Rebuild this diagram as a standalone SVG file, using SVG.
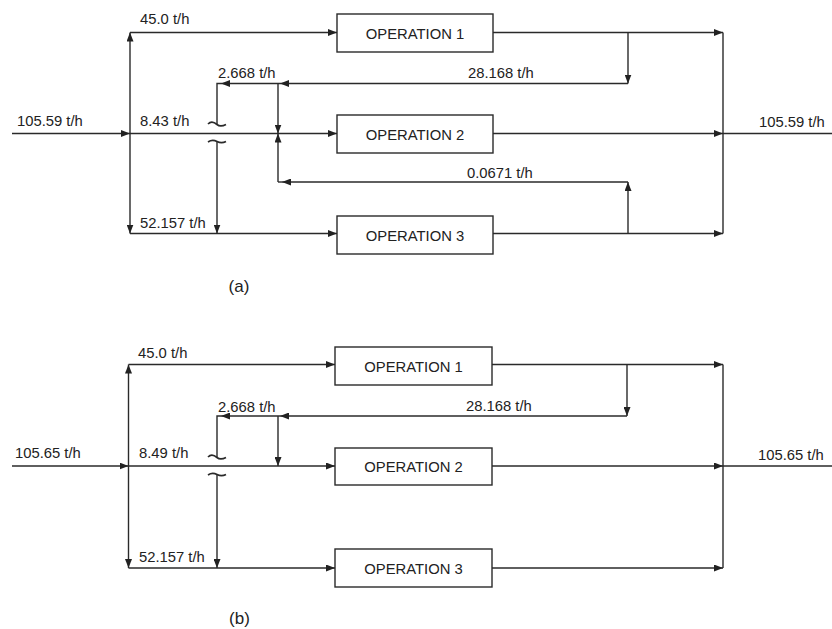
<svg xmlns="http://www.w3.org/2000/svg" width="832" height="629" viewBox="0 0 832 629">
<defs>
<marker id="ah" viewBox="0 0 9 7" refX="9" refY="3.5" markerWidth="9" markerHeight="7" markerUnits="userSpaceOnUse" orient="auto">
<path d="M0,0 L9,3.5 L0,7 z" fill="#222"/>
</marker>
<style>
.c{fill:none;stroke:#2a2a2a;stroke-width:1.4}
.a{marker-end:url(#ah)}
.t{fill:none;stroke:#2a2a2a;stroke-width:1.7}
.box{fill:#fff;stroke:#2a2a2a;stroke-width:1.4}
text{font-family:"Liberation Sans",Arial,sans-serif;font-size:14.8px;fill:#222}
.m{text-anchor:middle}
.cap{font-size:17px}
</style>
</defs>
<rect width="832" height="629" fill="#fff"/>

<!-- Diagram (a) -->
<g id="connectors-a">
<path class="c a" d="M12,133.5 H130"/>
<path class="c a" d="M130,133.5 V32.5"/>
<path class="c a" d="M130,133.5 V233.5"/>
<path class="c a" d="M130,32.5 H337"/>
<path class="c a" d="M130,133.5 H337"/>
<path class="c a" d="M130,233.5 H337"/>
<path class="c a" d="M493,32.5 H723"/>
<path class="c a" d="M628,32.5 V83.5"/>
<path class="c a" d="M628,83.5 H280"/>
<path class="c a" d="M280,83.5 H221"/>
<path class="c" d="M221,83.5 H217 V124"/>
<path class="t" d="M208,124 c3,-3 6,-2 9,0.5 s6,1.5 9,0"/>
<path class="t" d="M208,142 c3,-2 6,-2 9,-0.5 s6,1.5 9,0"/>
<path class="c a" d="M217,141 V233.5"/>
<path class="c a" d="M278,83.5 V133.5"/>
<path class="c a" d="M493,233.5 H723"/>
<path class="c a" d="M628,233.5 V182"/>
<path class="c a" d="M628,182 H282"/>
<path class="c" d="M282,182 H278"/>
<path class="c a" d="M278,182 V133.5"/>
<path class="c a" d="M493,133.5 H723"/>
<path class="c" d="M723,32.5 V233.5"/>
<path class="c" d="M723,133.5 H832"/>
</g>
<g id="op1-a"><rect class="box" x="337" y="14" width="156" height="38"/><text class="m" x="415" y="39">OPERATION 1</text></g>
<g id="op2-a"><rect class="box" x="337" y="115" width="156" height="38"/><text class="m" x="415" y="140">OPERATION 2</text></g>
<g id="op3-a"><rect class="box" x="337" y="216" width="156" height="38"/><text class="m" x="415" y="241">OPERATION 3</text></g>
<g id="labels-a">
<text x="140" y="24">45.0 t/h</text>
<text x="218" y="78">2.668 t/h</text>
<text x="468" y="78">28.168 t/h</text>
<text x="17" y="126">105.59 t/h</text>
<text x="140" y="126">8.43 t/h</text>
<text x="759" y="127">105.59 t/h</text>
<text x="467" y="178">0.0671 t/h</text>
<text x="140" y="228">52.157 t/h</text>
<text class="m cap" x="239" y="292">(a)</text>
</g>

<!-- Diagram (b) -->
<g id="connectors-b">
<path class="c a" d="M12,466 H128.5"/>
<path class="c a" d="M128.5,466 V364.5"/>
<path class="c a" d="M128.5,466 V568"/>
<path class="c a" d="M128.5,364.5 H335"/>
<path class="c a" d="M128.5,466 H335"/>
<path class="c a" d="M128.5,568 H335"/>
<path class="c a" d="M492,364.5 H723"/>
<path class="c a" d="M627,364.5 V416"/>
<path class="c a" d="M627,416 H280"/>
<path class="c a" d="M280,416 H221"/>
<path class="c" d="M221,416 H217 V457"/>
<path class="t" d="M208,457 c3,-3 6,-2 9,0.5 s6,1.5 9,0"/>
<path class="t" d="M208,475 c3,-2 6,-2 9,-0.5 s6,1.5 9,0"/>
<path class="c a" d="M217,474 V568"/>
<path class="c a" d="M278,416 V466"/>
<path class="c a" d="M492,466 H723"/>
<path class="c a" d="M492,568 H723"/>
<path class="c" d="M723,364.5 V568"/>
<path class="c" d="M723,466 H832"/>
</g>
<g id="op1-b"><rect class="box" x="335" y="347" width="157" height="38"/><text class="m" x="413.5" y="371.5">OPERATION 1</text></g>
<g id="op2-b"><rect class="box" x="335" y="448" width="157" height="37"/><text class="m" x="413.5" y="472">OPERATION 2</text></g>
<g id="op3-b"><rect class="box" x="335" y="549" width="157" height="38"/><text class="m" x="413.5" y="573.5">OPERATION 3</text></g>
<g id="labels-b">
<text x="138" y="358">45.0 t/h</text>
<text x="218" y="412">2.668 t/h</text>
<text x="466" y="411">28.168 t/h</text>
<text x="15" y="458">105.65 t/h</text>
<text x="139" y="458">8.49 t/h</text>
<text x="758" y="460">105.65 t/h</text>
<text x="139" y="562">52.157 t/h</text>
<text class="m cap" x="239.5" y="624">(b)</text>
</g>
</svg>
